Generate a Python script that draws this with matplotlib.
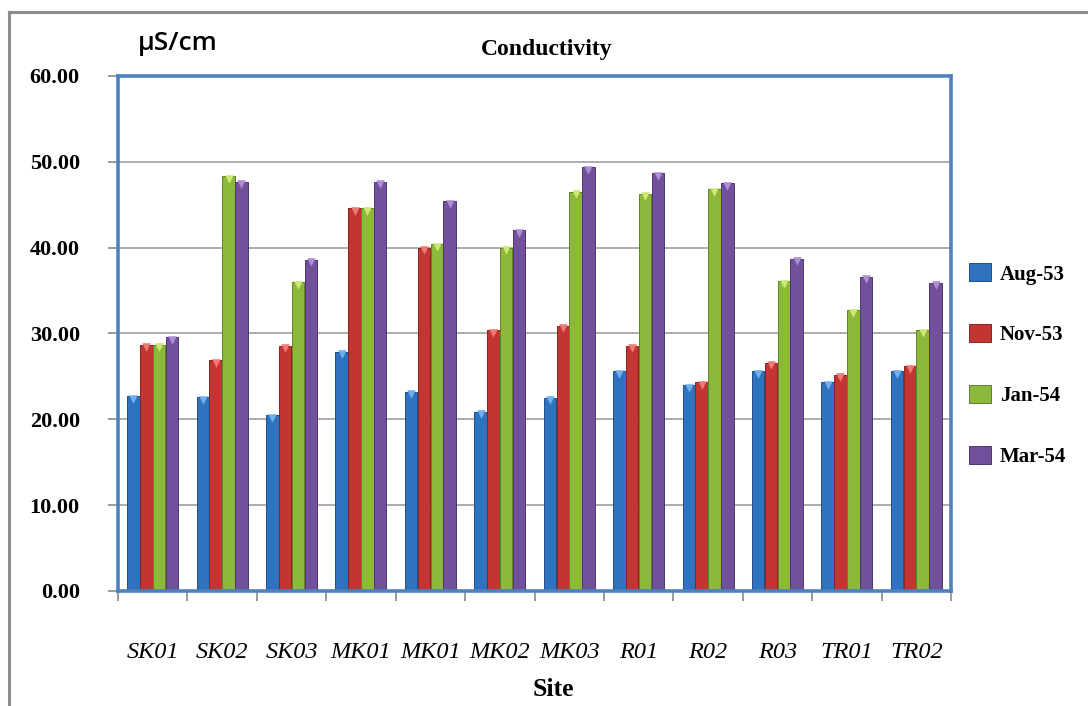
import matplotlib
matplotlib.use("Agg")
import matplotlib.pyplot as plt
import numpy as np
from matplotlib.patches import Patch
from matplotlib.lines import Line2D

sites = ["SK01", "SK02", "SK03", "MK01", "MK01", "MK02", "MK03", "R01", "R02", "R03", "TR01", "TR02"]
series_names = ["Aug-53", "Nov-53", "Jan-54", "Mar-54"]
aug53 = [22.7, 22.6, 20.5, 27.9, 23.2, 20.9, 22.5, 25.6, 24.0, 25.6, 24.3, 25.6]
nov53 = [28.7, 26.9, 28.6, 44.6, 40.0, 30.4, 30.9, 28.6, 24.3, 26.6, 25.2, 26.2]
jan54 = [28.7, 48.3, 36.0, 44.6, 40.4, 40.0, 46.5, 46.3, 46.8, 36.1, 32.7, 30.4]
mar54 = [29.6, 47.7, 38.6, 47.7, 45.4, 42.0, 49.4, 48.7, 47.5, 38.7, 36.6, 35.9]
yticks = [0, 10, 20, 30, 40, 50, 60]

colors = ["#2F72BF", "#C23533", "#8CB93C", "#71509C"]
edges = ["#1F4F88", "#8A2220", "#5F8228", "#4D356E"]
lights = ["#74AEEC", "#EE7A74", "#CDE774", "#AC8CD4"]

W, H = 1088, 706
fig = plt.figure(figsize=(W / 100, H / 100), dpi=100)
ax = fig.add_axes([118 / W, 1 - 591 / H, (951 - 118) / W, (591 - 76) / H])

x = np.arange(len(sites))
bw = 0.18
data = [aug53, nov53, jan54, mar54]
for i, vals in enumerate(data):
    xs = x + (i - 1.5) * (bw + 0.005)
    ax.bar(xs, vals, width=bw, color=colors[i],
           edgecolor=edges[i], linewidth=0.7, zorder=3)
    # bevel highlight at the top of each bar
    ax.scatter(xs, np.array(vals) - 0.3, marker="v", s=38, color=lights[i],
               linewidths=0, zorder=4)

ax.set_xlim(-0.5, len(sites) - 0.5)
ax.set_ylim(0, 60)
ax.set_yticks(yticks)
ax.set_yticklabels([f"{v:.2f}" for v in yticks], fontfamily="Liberation Serif",
                   fontweight="bold", fontsize=16)
ax.yaxis.grid(True, color="#A0A0A0", linewidth=1.2, zorder=0)
ax.set_axisbelow(True)

ax.set_xticks(x)
ax.set_xticklabels(sites, fontfamily="Liberation Serif", style="italic", fontsize=17.5)
ax.set_xticks(np.arange(-0.5, len(sites), 1), minor=True)
ax.tick_params(axis="x", which="major", length=0, pad=37)
ax.tick_params(axis="x", which="minor", length=7.5, color="#8A8A8A", width=1.2, direction="out")
ax.tick_params(axis="y", length=7.5, color="#8A8A8A", width=1.2, direction="out", pad=20)

for s in ax.spines.values():
    s.set_color("#4F81BD")
    s.set_linewidth(2.6)
    s.set_zorder(5)

# Titles and labels
fig.text(547 / W, 1 - 50 / H, "Conductivity", ha="center", va="center",
         fontfamily="Liberation Serif", fontweight="bold", fontsize=17)
fig.text(138 / W, 1 - 44 / H, "µS/cm", ha="left", va="center",
         fontfamily="Open Sans", fontweight="semibold", fontsize=19)
fig.text(553 / W, 1 - 689 / H, "Site", ha="center", va="center",
         fontfamily="Liberation Serif", fontweight="bold", fontsize=18.5)

# Legend
handles = [Patch(facecolor=colors[i], edgecolor=edges[i], linewidth=0.7) for i in range(4)]
fig.legend(handles, series_names, loc="upper left", bbox_to_anchor=(959 / W, 1 - 253 / H),
           frameon=False, borderpad=0, labelspacing=1.9, handlelength=1.05,
           handleheight=0.95, handletextpad=0.42,
           prop={"family": "Liberation Serif", "weight": "bold", "size": 15})

# Outer chart border (top and left only visible)
fig.add_artist(Line2D([9 / W, 1], [1 - 12 / H, 1 - 12 / H], color="#8C8C8C", linewidth=2.2))
fig.add_artist(Line2D([9 / W, 9 / W], [0, 1 - 12 / H], color="#8C8C8C", linewidth=2.2))

fig.savefig("out.png", dpi=100)
